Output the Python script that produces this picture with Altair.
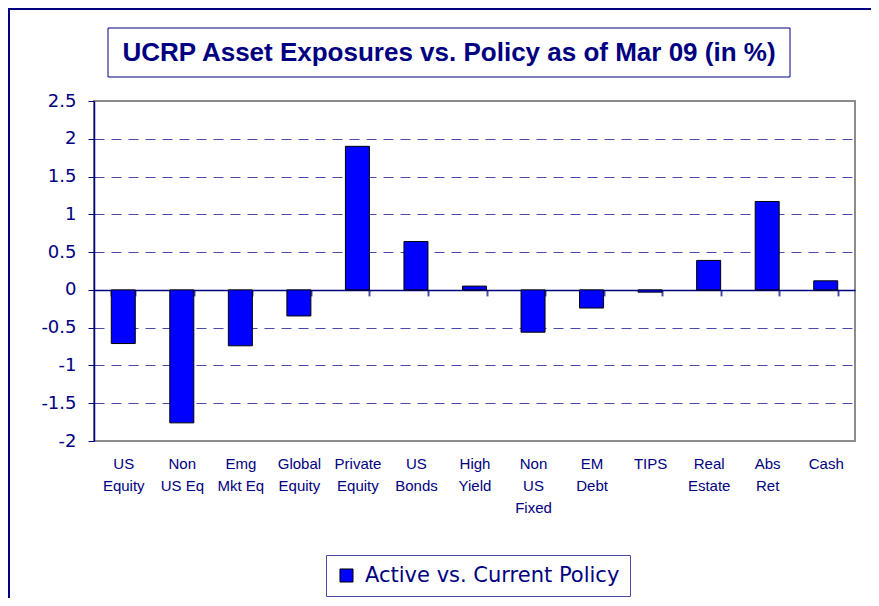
import altair as alt
import pandas as pd

categories = ["US\nEquity", "Non\nUS Eq", "Emg\nMkt Eq", "Global\nEquity", "Private\nEquity",
              "US\nBonds", "High\nYield", "Non\nUS\nFixed", "EM\nDebt", "TIPS",
              "Real\nEstate", "Abs\nRet", "Cash"]
values = [-0.71, -1.76, -0.74, -0.345, 1.90, 0.64, 0.05, -0.56, -0.24, -0.03, 0.39, 1.17, 0.12]
series_name = "Active vs. Current Policy"
title_text = "UCRP Asset Exposures vs. Policy as of Mar 09 (in %)"
y_ticks = [2.5, 2, 1.5, 1, 0.5, 0, -0.5, -1, -1.5, -2]

df = pd.DataFrame({"cat": categories, "val": values, "series": [series_name] * len(categories)})

NAVY = "#000080"
SLATE = "#4a4aa8"
W, H = 761, 340
ZERO_Y = H * 2.5 / 4.5
ZERO_OFF = H - ZERO_Y

xscale = alt.Scale(domain=categories, paddingInner=0.59, paddingOuter=0.295)
yscale = alt.Scale(domain=[-2, 2.5], nice=False, zero=False)

bars = alt.Chart(df).mark_bar(stroke="black", strokeWidth=1).encode(
    x=alt.X("cat:N", sort=categories, scale=xscale, title=None,
            axis=alt.Axis(orient="bottom", offset=-ZERO_OFF, labelAngle=0,
                          labelExpr="isValid(datum.value) ? split(datum.value, '\\n') : ''",
                          labelFont="Liberation Sans", labelFontSize=15,
                          labelColor=NAVY, labelPadding=ZERO_OFF + 9, labelLineHeight=22,
                          labelBaseline="top", domainColor=NAVY, domainWidth=1.5,
                          tickBand="extent", tickSize=6, tickColor=SLATE, tickWidth=2)),
    y=alt.Y("val:Q", scale=yscale, title=None,
            axis=alt.Axis(values=y_ticks, labelFont="DejaVu Sans", labelFontSize=18,
                          labelColor=NAVY, labelPadding=12, tickSize=6, tickColor=NAVY,
                          domainColor=NAVY, domainWidth=1.5, labelOverlap=False,
                          labelExpr="'' + datum.value",
                          grid=True, gridColor=SLATE, gridDash=[10, 7], gridWidth=1.2,
                          gridOpacity=alt.condition(
                              "datum.value == 0 || datum.value == 2.5 || datum.value == -2",
                              alt.value(0), alt.value(1)))),
    color=alt.Color("series:N", scale=alt.Scale(range=["#0000ff"]), title=None,
                    legend=alt.Legend(orient="none", legendX=232, legendY=454,
                                      symbolType="square", symbolSize=170,
                                      symbolStrokeColor="black", symbolStrokeWidth=1,
                                      labelFont="DejaVu Sans", labelFontSize=21,
                                      labelColor=NAVY, strokeColor=SLATE,
                                      padding=10, labelOffset=8,
                                      labelLimit=400)),
)

frame = alt.Chart(pd.DataFrame({"k": [0]})).mark_rect(
    fill=None, stroke=NAVY, strokeWidth=2
).encode(x=alt.value(-85), x2=alt.value(800), y=alt.value(-92), y2=alt.value(530))

title_box = alt.Chart(pd.DataFrame({"k": [0]})).mark_rect(
    fill="white", stroke=NAVY, strokeWidth=1
).encode(x=alt.value(14), x2=alt.value(696), y=alt.value(-73), y2=alt.value(-24))

title = alt.Chart(pd.DataFrame({"t": [title_text]})).mark_text(
    font="Liberation Sans", fontWeight="bold", fontSize=26, color=NAVY,
    align="center", baseline="middle"
).encode(text="t:N", x=alt.value(355), y=alt.value(-48))

chart = alt.layer(frame, title_box, title, bars).properties(
    width=W, height=H,
    autosize=alt.AutoSizeParams(type="none"),
    padding={"left": 86, "top": 93, "right": 16, "bottom": 157},
).configure_view(stroke="#8c8c8c", strokeWidth=2)

chart.save("out.html", embed_options={"renderer": "svg", "actions": False})
